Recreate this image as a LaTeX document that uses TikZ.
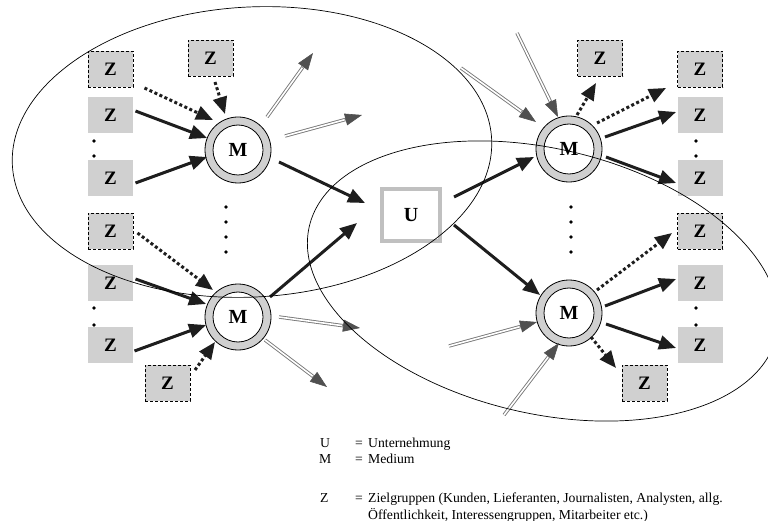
\documentclass[tikz,border=0pt]{standalone}
\usepackage{fontspec}
\setmainfont{Liberation Serif}
\usetikzlibrary{arrows.meta,calc}
\definecolor{boxgray}{RGB}{208,208,208}
\definecolor{ugray}{RGB}{192,192,192}
\definecolor{arrowblack}{RGB}{30,30,30}
\definecolor{dblgray}{RGB}{120,120,120}
\definecolor{headgray}{RGB}{80,80,80}
\tikzset{
  zbox/.style={rectangle, fill=boxgray, minimum width=45pt, minimum height=36pt, inner sep=0pt,
    font=\bfseries\fontsize{19}{19}\selectfont},
  zdash/.style={zbox, draw=black, line width=0.8pt, dash pattern=on 3pt off 2pt},
  medium/.style={circle, draw=black, fill=boxgray, line width=0.8pt, minimum size=66pt, inner sep=0pt,
    path picture={\draw[black, fill=white, line width=0.8pt] (path picture bounding box.center) circle[radius=25pt];},
    font=\bfseries\fontsize{20}{20}\selectfont},
  ubox/.style={rectangle, draw=ugray, fill=white, line width=4pt, minimum width=58pt, minimum height=52pt,
    inner sep=0pt, font=\bfseries\fontsize{20}{20}\selectfont},
  solidarrow/.style={draw=arrowblack, line width=3pt, -{Triangle[length=17pt,width=14pt]}},
  dotarrow/.style={draw=arrowblack, line width=3pt, dash pattern=on 3pt off 2.5pt, -{Triangle[length=17pt,width=14pt]}},
  dblline/.style={draw=dblgray, line width=0.9pt, double=white, double distance=1.6pt},
  headtip/.style={draw=headgray, line width=0.6pt,
    -{Triangle[length=17pt,width=12pt,color=headgray,fill=headgray]}},
  smalldot/.style={circle, fill=black, inner sep=0pt, minimum size=3.6pt},
  legend/.style={anchor=base west, inner sep=0pt, font=\fontsize{13.7}{16}\selectfont},
  outline/.style={draw=black, line width=0.7pt}
}
\newcommand{\dblarr}[2]{%
  \draw[dblline] (#1) -- ($(#2)!15pt!(#1)$);
  \draw[headtip] ($(#2)!18pt!(#1)$) -- (#2);}
\begin{document}
\begin{tikzpicture}[x=1pt,y=-1pt]
\useasboundingbox (0,0) rectangle (768,521);

% Z boxes left
\node[zdash] (zl1) at (110.5,69) {Z};
\node[zbox]  (zl2) at (110.5,115) {Z};
\node[zbox]  (zl3) at (110.5,178) {Z};
\node[zdash] (zl4) at (110.5,231) {Z};
\node[zbox]  (zl5) at (110.5,283) {Z};
\node[zbox]  (zl6) at (110.5,345) {Z};
\node[zdash] (zt1) at (210.5,58.5) {Z};
\node[zdash] (zb1) at (167.5,383) {Z};
% Z boxes right
\node[zdash] (zr1) at (700,69) {Z};
\node[zbox]  (zr2) at (700,115) {Z};
\node[zbox]  (zr3) at (700,178) {Z};
\node[zdash] (zr4) at (700,231) {Z};
\node[zbox]  (zr5) at (700,283) {Z};
\node[zbox]  (zr6) at (700,345) {Z};
\node[zdash] (zt2) at (600,58.5) {Z};
\node[zdash] (zb2) at (644.5,383) {Z};

% media
\node[medium] (m1) at (238,150) {M};
\node[medium] (m2) at (238,317) {M};
\node[medium] (m3) at (569,149) {M};
\node[medium] (m4) at (569,313) {M};

% company
\node[ubox] (u) at (411,215) {U};

% dots
\foreach \n/\x/\y in {d1/94/141, d2/94/156, d3/94/308, d4/94/325,
                      d5/696/141, d6/696/156, d7/696/308, d8/696/325,
                      d9/226/207, d10/226/222, d11/226/237, d12/226/252,
                      d13/571/207, d14/571/222, d15/571/237, d16/571/252}
  \node[smalldot] (\n) at (\x,\y) {};

% ends of the double arrows
\coordinate (o1) at (313,53);
\coordinate (o2) at (362,115);
\coordinate (o3) at (360,328);
\coordinate (o4) at (327,387);
\coordinate (i1) at (517,33);
\coordinate (i2) at (461,68);
\coordinate (i3) at (449,346);
\coordinate (i4) at (504,415);
\coordinate (m1a) at ($(m1)+(29,-33)$);
\coordinate (m1b) at ($(m1)+(47,-14)$);
\coordinate (m2a) at ($(m2)+(41,0)$);
\coordinate (m2b) at ($(m2)+(27,23)$);
\coordinate (m3a) at ($(m3)+(-11,-32)$);
\coordinate (m3b) at ($(m3)+(-33,-27)$);
\coordinate (m4a) at ($(m4)+(-32,9)$);
\coordinate (m4b) at ($(m4)+(-10,30)$);

% upper left medium
\draw[dotarrow] ($(zl1)+(34,19)$) -- ($(m1)+(-25,-30)$);
\draw[dotarrow] ($(zt1)+(4.5,23.5)$) -- ($(m1)+(-13,-36)$);
\draw[solidarrow] ($(zl2)+(25,-4)$) -- ($(m1)+(-31,-12)$);
\draw[solidarrow] ($(zl3)+(25,5)$) -- ($(m1)+(-31,7)$);
\dblarr{m1a}{o1}
\dblarr{m1b}{o2}
\draw[solidarrow] ($(m1)+(41,12)$) -- ($(u)+(-46,-12)$);

% lower left medium
\draw[dotarrow] ($(zl4)+(27,2)$) -- ($(m2)+(-25,-27)$);
\draw[solidarrow] ($(zl5)+(25,-4)$) -- ($(m2)+(-32,-13)$);
\draw[solidarrow] ($(zl6)+(24,6)$) -- ($(m2)+(-32,8)$);
\draw[dotarrow] ($(zb1)+(27.5,-13)$) -- ($(m2)+(-23,25)$);
\draw[solidarrow] ($(m2)+(32,-20)$) -- ($(u)+(-54,8)$);
\dblarr{m2a}{o3}
\dblarr{m2b}{o4}

% upper right medium
\dblarr{i1}{m3a}
\dblarr{i2}{m3b}
\draw[solidarrow] ($(u)+(43,-18)$) -- ($(m3)+(-35,8)$);
\draw[dotarrow] ($(m3)+(8,-34)$) -- ($(zt2)+(-4,24.5)$);
\draw[dotarrow] ($(m3)+(28,-26)$) -- ($(zr1)+(-34,19)$);
\draw[solidarrow] ($(m3)+(36,-12)$) -- ($(zr2)+(-24,-3)$);
\draw[solidarrow] ($(m3)+(37,8)$) -- ($(zr3)+(-24,5)$);

% lower right medium
\draw[solidarrow] ($(u)+(43,10)$) -- ($(m4)+(-29,-18)$);
\draw[dotarrow] ($(m4)+(28,-23)$) -- ($(zr4)+(-28,2)$);
\draw[solidarrow] ($(m4)+(36,-7)$) -- ($(zr5)+(-24,-4)$);
\draw[solidarrow] ($(m4)+(37,11)$) -- ($(zr6)+(-24,3)$);
\draw[dotarrow] ($(m4)+(22,24)$) -- ($(zb2)+(-28.5,-15)$);
\dblarr{i3}{m4a}
\dblarr{i4}{m4b}

% the two spheres
\draw[outline, rotate around={3.2:(252,152)}] (252,152) ellipse [x radius=240, y radius=145];
\draw[outline, rotate around={-13.2:(543,281)}] (543,281) ellipse [x radius=240, y radius=132.4];

% legend
\node[legend] (lu) at (320,447) {U};
\node[legend] (lue) at (355,447) {=};
\node[legend] (lut) at (368,447) {Unternehmung};
\node[legend] (lm) at (319,463) {M};
\node[legend] (lme) at (355,463) {=};
\node[legend] (lmt) at (368,463) {Medium};
\node[legend] (lz) at (320,502) {Z};
\node[legend] (lze) at (355,502) {=};
\node[legend] (lzt) at (368,502) {Zielgruppen (Kunden, Lieferanten, Journalisten, Analysten, allg.};
\node[legend] (lzt2) at (368,519) {Öffentlichkeit, Interessengruppen, Mitarbeiter etc.)};
\end{tikzpicture}
\end{document}
